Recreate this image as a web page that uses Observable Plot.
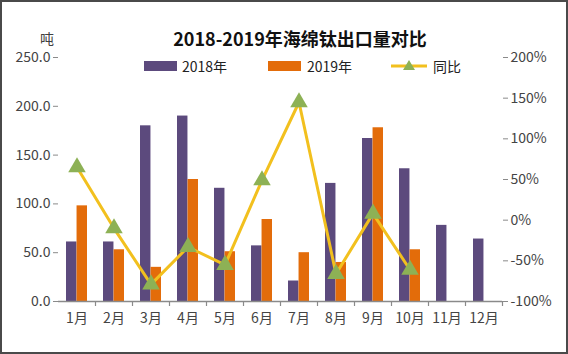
<!DOCTYPE html>
<html>
<head>
<meta charset="utf-8">
<script src="https://cdn.jsdelivr.net/npm/d3@7"></script>
<script src="https://cdn.jsdelivr.net/npm/@observablehq/plot@0.6"></script>
<style>
  html, body { margin: 0; padding: 0; background: #fff; }
  #wrap { position: relative; width: 568px; height: 354px; overflow: hidden; font-family: "Noto Sans CJK SC", "Noto Sans", sans-serif; }
  #chart { position: absolute; left: 0; top: 0; }
  #border { position: absolute; left: 0; top: 0; width: 568px; height: 354px; box-sizing: border-box; border: 2px solid #4a4a4a; pointer-events: none; }
  .title { position: absolute; left: 0; width: 600px; top: 26px; text-align: center; font-size: 18px; font-weight: bold; color: #111; line-height: 24px; }
  .unit { position: absolute; left: 40px; top: 29px; font-size: 14px; color: #404040; line-height: 18px; }
  .legend { position: absolute; top: 57px; font-size: 14px; color: #222; line-height: 18px; }
  .sw { position: absolute; }
</style>
</head>
<body>
<div id="wrap">
  <div id="chart"></div>
  <div class="unit">吨</div>
  <div class="title">2018-2019年海绵钛出口量对比</div>
  <div id="legend"></div>
  <div id="border"></div>
</div>
<script>
const months = ["1月","2月","3月","4月","5月","6月","7月","8月","9月","10月","11月","12月"];
const export2018 = [61, 61, 180, 190, 116, 57, 21, 121, 167, 136, 78, 64];
const export2019 = [98, 53, 35, 125, 51, 84, 50, 40, 178, 53];
const yoyPct = [65, -10, -79, -33, -55, 49, 145, -66, 8, -61];
const leftTicks = [0, 50, 100, 150, 200, 250];
const rightTicks = [-100, -50, 0, 50, 100, 150, 200];
const seriesNames = ["2018年", "2019年", "同比"];

const colors = { s2018: "#5c4a7d", s2019: "#e36c0a", line: "#f2c01e", marker: "#8db155", axis: "#8a8a8a", text: "#444" };

// map the right-axis percentage onto the left-axis scale (-100%..200% ↔ 0..250)
const leftMax = 250, pctMin = -100, pctMax = 200;
const pctToY = p => (p - pctMin) * leftMax / (pctMax - pctMin);
const yToPct = y => Math.round(y * (pctMax - pctMin) / leftMax + pctMin);

const rows2018 = months.map((m, i) => ({ month: m, value: export2018[i] }));
const rows2019 = export2019.map((v, i) => ({ month: months[i], value: v }));
const rowsYoy = yoyPct.map((p, i) => ({ month: months[i], y: pctToY(p) }));

const W = 568, H = 354, mL = 58, mR = 66, mT = 57, mB = 53;
const padInner = 0.43, padOuter = padInner / 2;
const step = (W - mL - mR) / months.length;
const half = step * (1 - padInner) / 2;

const chart = Plot.plot({
  width: W, height: H,
  marginLeft: mL, marginRight: mR, marginTop: mT, marginBottom: mB,
  style: { fontFamily: '"Noto Sans CJK SC", "Noto Sans", sans-serif', fontSize: "14px", color: colors.text, background: "transparent" },
  x: { type: "band", domain: months, paddingInner: padInner, paddingOuter: padOuter, axis: null },
  y: { domain: [0, leftMax], axis: null },
  marks: [
    Plot.barY(rows2018, { x: "month", y: "value", fill: colors.s2018, insetRight: half, insetLeft: 0 }),
    Plot.barY(rows2019, { x: "month", y: "value", fill: colors.s2019, insetLeft: half, insetRight: 0 }),
    Plot.ruleY([0], { stroke: colors.axis, strokeWidth: 1.5 }),
    Plot.axisX({ anchor: "bottom", tickSize: 0, tickPadding: 12, fontSize: 14, fill: colors.text, label: null }),
    Plot.axisX({ anchor: "bottom", tickSize: 5, tickFormat: () => "", dx: step / 2, stroke: colors.axis, strokeWidth: 1.2, label: null }),
    Plot.axisY(leftTicks, { anchor: "left", tickSize: 5, tickPadding: 3, tickFormat: d => d.toFixed(1), line: true, stroke: colors.axis, fill: colors.text, fontSize: 14, label: null }),
    Plot.axisY(rightTicks.map(pctToY), { anchor: "right", tickSize: 5, tickPadding: 3, tickFormat: d => yToPct(d) + "%", line: true, stroke: colors.axis, fill: colors.text, fontSize: 14, label: null }),
    Plot.line(rowsYoy, { x: "month", y: "y", stroke: colors.line, strokeWidth: 3 }),
    Plot.dot(rowsYoy, { x: "month", y: "y", symbol: "triangle", r: 6.5, fill: colors.marker, stroke: "none" })
  ]
});
document.getElementById("chart").appendChild(chart);

// legend
const legend = document.getElementById("legend");
const legendItems = [
  { name: seriesNames[0], kind: "rect", color: colors.s2018, sx: 144, tx: 182 },
  { name: seriesNames[1], kind: "rect", color: colors.s2019, sx: 268, tx: 307 },
  { name: seriesNames[2], kind: "line", color: colors.line, sx: 391, tx: 433 }
];
for (const it of legendItems) {
  if (it.kind === "rect") {
    const s = document.createElement("div");
    s.className = "sw";
    s.style.cssText = `left:${it.sx}px;top:61px;width:33px;height:10px;background:${it.color}`;
    legend.appendChild(s);
  } else {
    const ns = "http://www.w3.org/2000/svg";
    const svg = document.createElementNS(ns, "svg");
    svg.setAttribute("width", 40); svg.setAttribute("height", 20);
    svg.style.cssText = `position:absolute;left:${it.sx}px;top:56px`;
    const l = document.createElementNS(ns, "line");
    l.setAttribute("x1", 0); l.setAttribute("x2", 36); l.setAttribute("y1", 10); l.setAttribute("y2", 10);
    l.setAttribute("stroke", it.color); l.setAttribute("stroke-width", 3);
    const t = document.createElementNS(ns, "path");
    t.setAttribute("d", "M18,4 L24,14 L12,14 Z");
    t.setAttribute("fill", colors.marker);
    svg.appendChild(l); svg.appendChild(t);
    legend.appendChild(svg);
  }
  const tx = document.createElement("div");
  tx.className = "legend";
  tx.style.left = it.tx + "px";
  tx.textContent = it.name;
  legend.appendChild(tx);
}
</script>
</body>
</html>
